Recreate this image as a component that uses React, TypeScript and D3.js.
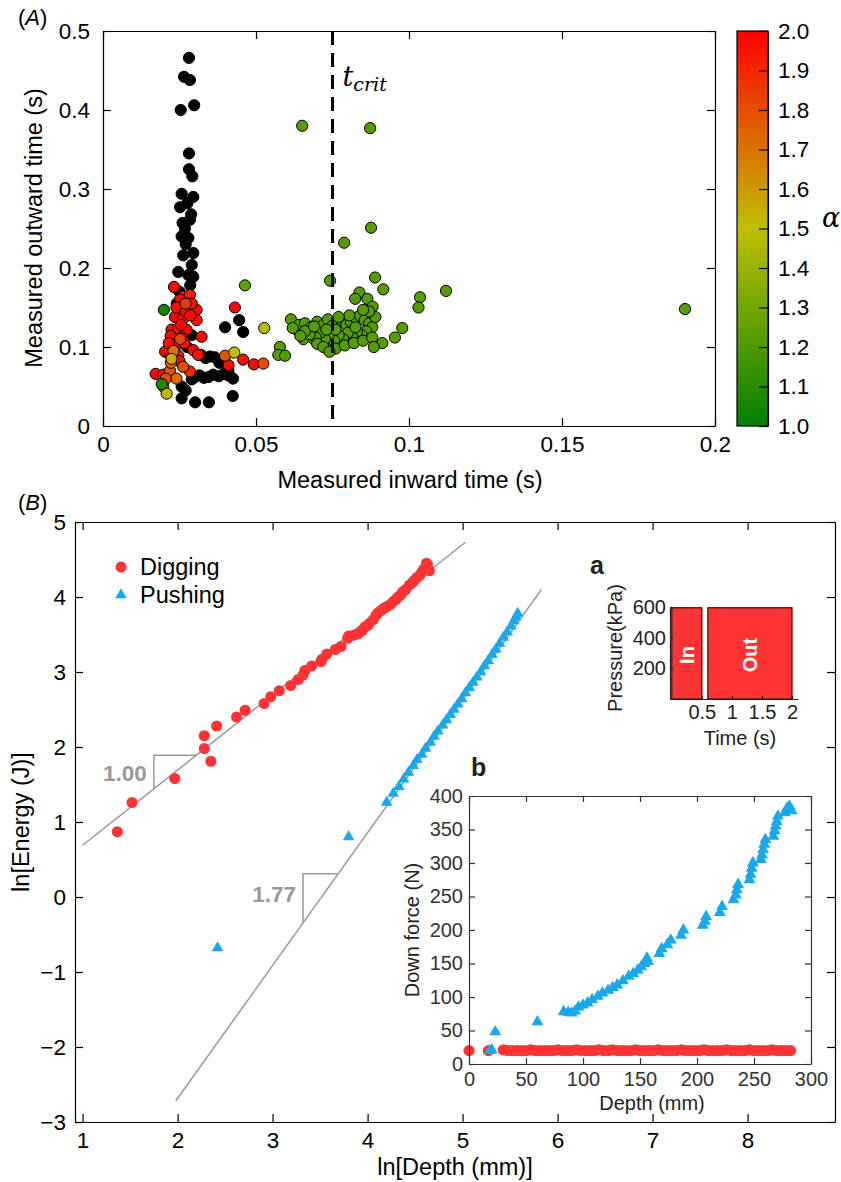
import React, { useEffect, useRef } from "react";
import * as d3 from "d3";

// ---------- Panel A: measured inward / outward times (s) ----------
// points without an alpha value (drawn black)
const aBlackPoints = [
  [0.0281, 0.466], [0.0265, 0.442], [0.0284, 0.438], [0.0254, 0.400], [0.0298, 0.406],
  [0.0281, 0.345], [0.0281, 0.325], [0.0292, 0.316], [0.0257, 0.294], [0.0295, 0.290],
  [0.0252, 0.277], [0.0276, 0.282], [0.0284, 0.261], [0.0260, 0.257], [0.0268, 0.250],
  [0.0257, 0.240], [0.0279, 0.238], [0.0270, 0.230], [0.0295, 0.219], [0.0262, 0.216],
  [0.0290, 0.204], [0.0246, 0.195], [0.0279, 0.191], [0.0295, 0.189], [0.0288, 0.268],
  [0.0285, 0.178], [0.0250, 0.170], [0.0241, 0.155], [0.0290, 0.115], [0.0275, 0.100],
  [0.0399, 0.125], [0.0445, 0.134], [0.0458, 0.119], [0.0350, 0.088], [0.0320, 0.090],
  [0.0335, 0.086], [0.0365, 0.087], [0.0380, 0.080], [0.0395, 0.085], [0.0410, 0.070],
  [0.0290, 0.059], [0.0300, 0.062], [0.0315, 0.064], [0.0330, 0.061], [0.0345, 0.062],
  [0.0360, 0.065], [0.0378, 0.063], [0.0395, 0.066], [0.0410, 0.064], [0.0425, 0.060],
  [0.0424, 0.038], [0.0257, 0.035], [0.0301, 0.030], [0.0346, 0.030], [0.0257, 0.050],
  [0.0270, 0.045],
];

// points with a fitted alpha: [inward, outward, alpha]
const aAlphaPoints = [
  // red
  [0.0232, 0.176, 1.97], [0.0262, 0.164, 1.95], [0.0252, 0.160, 1.98], [0.0284, 0.166, 1.92],
  [0.0306, 0.147, 1.98], [0.0306, 0.134, 1.96], [0.0235, 0.138, 1.99], [0.0262, 0.136, 1.97],
  [0.0224, 0.122, 1.98], [0.0246, 0.124, 1.95], [0.0273, 0.122, 1.97], [0.0221, 0.114, 1.99],
  [0.0257, 0.112, 1.96], [0.0322, 0.113, 1.98], [0.0235, 0.100, 1.97], [0.0203, 0.094, 1.99],
  [0.0246, 0.089, 1.93], [0.0295, 0.096, 1.98], [0.0311, 0.090, 1.95], [0.0431, 0.150, 1.98],
  [0.0410, 0.077, 1.98], [0.0458, 0.084, 1.96], [0.0493, 0.078, 1.97], [0.0172, 0.066, 1.99],
  [0.0197, 0.065, 1.97], [0.0284, 0.069, 1.90], [0.0240, 0.150, 1.96], [0.0270, 0.145, 1.98],
  [0.0215, 0.105, 1.96], [0.0265, 0.105, 1.97], [0.0255, 0.128, 1.99], [0.0285, 0.140, 1.97],
  [0.0290, 0.155, 1.95], [0.0220, 0.090, 1.98], [0.0250, 0.082, 1.94],
  // orange
  [0.0262, 0.075, 1.80], [0.0219, 0.070, 1.78], [0.0197, 0.050, 1.75], [0.0399, 0.089, 1.78],
  [0.0524, 0.079, 1.80], [0.0252, 0.110, 1.82], [0.0222, 0.080, 1.75], [0.0240, 0.060, 1.72],
  [0.0205, 0.060, 1.80], [0.0270, 0.155, 1.85], [0.0230, 0.095, 1.70],
  // yellow
  [0.0208, 0.041, 1.52], [0.0429, 0.093, 1.50], [0.0527, 0.124, 1.48], [0.0224, 0.085, 1.55],
  // dark green
  [0.0199, 0.147, 1.05], [0.0192, 0.053, 1.08],
  // green
  [0.0651, 0.380, 1.22], [0.0873, 0.377, 1.22], [0.0876, 0.251, 1.22], [0.0788, 0.232, 1.22],
  [0.0742, 0.184, 1.22], [0.0889, 0.188, 1.22], [0.0916, 0.173, 1.22], [0.0838, 0.169, 1.22],
  [0.0824, 0.161, 1.22], [0.0864, 0.161, 1.22], [0.0881, 0.151, 1.22], [0.1036, 0.163, 1.22],
  [0.1031, 0.150, 1.22], [0.1121, 0.171, 1.22], [0.1902, 0.148, 1.22], [0.0978, 0.124, 1.22],
  [0.0954, 0.112, 1.22], [0.0913, 0.105, 1.22], [0.0614, 0.135, 1.22], [0.0464, 0.178, 1.25],
  [0.0578, 0.100, 1.22], [0.0573, 0.090, 1.22], [0.0595, 0.089, 1.22], [0.0633, 0.122, 1.22],
  [0.0655, 0.110, 1.22], [0.0686, 0.111, 1.22], [0.0736, 0.101, 1.22],
  [0.0640, 0.128, 1.22], [0.0660, 0.130, 1.22], [0.0680, 0.125, 1.22], [0.0700, 0.132, 1.22],
  [0.0720, 0.128, 1.22], [0.0735, 0.135, 1.22], [0.0750, 0.127, 1.22], [0.0765, 0.130, 1.22],
  [0.0780, 0.134, 1.22], [0.0795, 0.128, 1.22], [0.0810, 0.132, 1.22], [0.0825, 0.137, 1.22],
  [0.0840, 0.140, 1.22], [0.0855, 0.134, 1.22], [0.0870, 0.130, 1.22], [0.0880, 0.125, 1.22],
  [0.0860, 0.120, 1.22], [0.0845, 0.115, 1.22], [0.0830, 0.120, 1.22], [0.0815, 0.112, 1.22],
  [0.0800, 0.118, 1.22], [0.0785, 0.110, 1.22], [0.0770, 0.115, 1.22], [0.0755, 0.108, 1.22],
  [0.0740, 0.117, 1.22], [0.0725, 0.110, 1.22], [0.0710, 0.118, 1.22], [0.0695, 0.112, 1.22],
  [0.0675, 0.116, 1.22], [0.0660, 0.120, 1.22], [0.0645, 0.114, 1.22], [0.0700, 0.104, 1.22],
  [0.0720, 0.100, 1.22], [0.0760, 0.098, 1.22], [0.0790, 0.102, 1.22], [0.0820, 0.105, 1.22],
  [0.0850, 0.108, 1.22], [0.0880, 0.112, 1.22], [0.0890, 0.138, 1.22], [0.0870, 0.145, 1.22],
  [0.0850, 0.147, 1.22], [0.0825, 0.125, 1.22], [0.0760, 0.122, 1.22], [0.0730, 0.122, 1.22],
  [0.0690, 0.126, 1.22], [0.0620, 0.124, 1.22], [0.0885, 0.100, 1.22], [0.0740, 0.094, 1.22],
  [0.0805, 0.140, 1.22], [0.0770, 0.138, 1.22],
];

const aXTicks = [0, 0.05, 0.1, 0.15, 0.2];
const aYTicks = [0, 0.1, 0.2, 0.3, 0.4, 0.5];
const tCrit = 0.075;
const alphaTicks = [1.0, 1.1, 1.2, 1.3, 1.4, 1.5, 1.6, 1.7, 1.8, 1.9, 2.0];

// ---------- Panel B: ln(energy) vs ln(depth) ----------
const digPoints = [
  [1.365, 0.87], [1.52, 1.26], [1.97, 1.58], [2.28, 1.98], [2.28, 2.15], [2.35, 1.81],
  [2.41, 2.28], [2.62, 2.40], [2.71, 2.49], [2.91, 2.58], [2.98, 2.67], [3.07, 2.75],
  [3.19, 2.82], [3.27, 2.90], [3.32, 2.96], [3.34, 3.02], [3.41, 3.08], [3.51, 3.14],
  [3.52, 3.17], [3.57, 3.24], [3.66, 3.30], [3.72, 3.34], [3.79, 3.45], [3.80, 3.48],
  [3.85, 3.49], [3.90, 3.51], [3.94, 3.55], [3.97, 3.60], [4.00, 3.62], [4.02, 3.65],
  [4.06, 3.70], [4.09, 3.76], [4.11, 3.79], [4.14, 3.82], [4.17, 3.85], [4.20, 3.87],
  [4.24, 3.90], [4.27, 3.94], [4.30, 3.97], [4.32, 4.00], [4.35, 4.03], [4.37, 4.07],
  [4.40, 4.10], [4.44, 4.16], [4.47, 4.19], [4.49, 4.22], [4.52, 4.26], [4.55, 4.29],
  [4.57, 4.33], [4.59, 4.37], [4.62, 4.45], [4.63, 4.43], [4.65, 4.35],
];
const pushPoints = [
  [2.42, -0.68], [3.80, 0.80],
  [4.20, 1.26], [4.27, 1.38], [4.33, 1.47], [4.38, 1.57], [4.43, 1.66], [4.48, 1.75],
  [4.52, 1.83], [4.57, 1.90], [4.61, 1.98], [4.66, 2.06], [4.70, 2.14], [4.74, 2.21],
  [4.79, 2.29], [4.83, 2.36], [4.87, 2.43], [4.91, 2.50], [4.95, 2.57], [4.99, 2.64],
  [5.03, 2.72], [5.07, 2.79], [5.11, 2.86], [5.15, 2.93], [5.19, 3.00], [5.23, 3.08],
  [5.27, 3.15], [5.31, 3.23], [5.35, 3.30], [5.39, 3.38], [5.43, 3.46], [5.47, 3.53],
  [5.51, 3.61], [5.54, 3.68], [5.56, 3.73], [5.58, 3.78],
];
const digFit = [[1.0, 0.69], [5.03, 4.73]];
const pushFit = [[1.98, -2.72], [5.83, 4.10]];
const digSlopeTri = [[1.75, 1.44], [1.75, 1.89], [2.2, 1.89]];
const pushSlopeTri = [[3.32, -0.34], [3.32, 0.31], [3.68, 0.31]];
const bXTicks = [1, 2, 3, 4, 5, 6, 7, 8];
const bYTicks = [-3, -2, -1, 0, 1, 2, 3, 4, 5];

// ---------- Inset a: pressure pulses ----------
const pulses = [
  { label: "In", t0: 0.0, t1: 0.5, p: 595 },
  { label: "Out", t0: 0.6, t1: 2.0, p: 595 },
];
const inAXTicks = [0.5, 1, 1.5, 2];
const inAYTicks = [200, 400, 600];

// ---------- Inset b: down force vs depth ----------
const forcePush = [
  [18, 20], [20, 21], [23, 48], [60, 63], [83, 78], [87, 77], [90, 76], [93, 79], [96, 85],
  [100, 88], [104, 91], [108, 96], [113, 101], [117, 106], [122, 110], [126, 114], [130, 118],
  [135, 124], [140, 131], [144, 135], [148, 140], [151, 145], [154, 150], [156, 158], [157, 153],
  [167, 165], [169, 172], [174, 178], [177, 185], [186, 192], [188, 200], [205, 207], [207, 213],
  [208, 220], [220, 226], [222, 235], [232, 245], [234, 252], [235, 260], [236, 268], [246, 275],
  [247, 283], [248, 292], [249, 300], [256, 305], [257, 312], [258, 320], [259, 328], [260, 335],
  [267, 340], [268, 348], [269, 355], [270, 362], [271, 370], [277, 375], [279, 382], [281, 385],
  [283, 378],
];
const forceDig = [
  [0, 20], [17, 20], [30, 21], [34, 20], [38, 20], [42, 20], [46, 20], [50, 20], [54, 21],
  [58, 20], [62, 20], [66, 20], [70, 20], [74, 20], [78, 21], [82, 20], [86, 20], [90, 20],
  [94, 21], [98, 20], [102, 20], [106, 20], [110, 20], [114, 21], [118, 20], [122, 20],
  [126, 21], [130, 20], [134, 20], [138, 20], [142, 20], [146, 21], [150, 20], [154, 20],
  [158, 20], [162, 20], [166, 21], [170, 20], [174, 20], [178, 20], [182, 20], [186, 21],
  [190, 20], [194, 20], [198, 20], [202, 20], [206, 21], [210, 20], [214, 20], [218, 20],
  [222, 20], [226, 21], [230, 20], [234, 20], [238, 20], [242, 20], [246, 21], [250, 20],
  [254, 20], [258, 20], [262, 20], [266, 21], [270, 20], [274, 20], [278, 20], [282, 20],
];
const inBXTicks = [0, 50, 100, 150, 200, 250, 300];
const inBYTicks = [0, 50, 100, 150, 200, 250, 300, 350, 400];

const FONT = "'Liberation Sans', Arial, Helvetica, sans-serif";
const RED = "#ff3333";
const BLUE = "#17a9ec";
const TICK_FS = 22.5;
const TITLE_FS = 23.5;
const INSET_FS = 20;

const alphaColor = d3.scaleLinear<string>().domain([1, 1.5, 2]).range(["#008000", "#bfbf00", "#ff0000"]);

function styleAxis(g, fs, color) {
  g.attr("font-family", FONT).attr("font-size", fs);
  g.selectAll("path, line").attr("stroke", color).attr("stroke-width", 1.2);
  g.selectAll("text").attr("fill", color);
}

// full box with inward ticks on every side (matlab style)
function boxAxes(g, x, y, o) {
  const [xl, xr] = x.range();
  const [yb, yt] = y.range();
  const color = o.color || "#000";
  const b = g.append("g").attr("transform", `translate(0,${yb})`)
    .call(d3.axisBottom(x).tickValues(o.xTicks).tickSizeInner(-o.tick).tickSizeOuter(0).tickPadding(o.padX).tickFormat(o.fmtX));
  const t = g.append("g").attr("transform", `translate(0,${yt})`)
    .call(d3.axisTop(x).tickValues(o.xTicks).tickSizeInner(-o.tick).tickSizeOuter(0).tickFormat(() => ""));
  const l = g.append("g").attr("transform", `translate(${xl},0)`)
    .call(d3.axisLeft(y).tickValues(o.yTicks).tickSizeInner(-o.tick).tickSizeOuter(0).tickPadding(o.padY).tickFormat(o.fmtY));
  const r = g.append("g").attr("transform", `translate(${xr},0)`)
    .call(d3.axisRight(y).tickValues(o.yTicks).tickSizeInner(-o.tick).tickSizeOuter(0).tickFormat(() => ""));
  [b, t, l, r].forEach(a => styleAxis(a, o.fs, color));
}

function drawPanelA(svg) {
  const g = svg.append("g");
  const x = d3.scaleLinear().domain([0, 0.2]).range([103, 715]);
  const y = d3.scaleLinear().domain([0, 0.5]).range([426, 31]);

  // scatter
  g.selectAll(".blk").data(aBlackPoints).join("circle").attr("class", "blk")
    .attr("cx", d => x(d[0])).attr("cy", d => y(d[1])).attr("r", 5.6)
    .attr("fill", "#000").attr("stroke", "#000").attr("stroke-width", 1);
  g.selectAll(".col").data(aAlphaPoints).join("circle").attr("class", "col")
    .attr("cx", d => x(d[0])).attr("cy", d => y(d[1])).attr("r", 5.6)
    .attr("fill", d => alphaColor(d[2])).attr("stroke", "#000").attr("stroke-width", 1);

  // t_crit
  g.append("line").attr("x1", x(tCrit)).attr("x2", x(tCrit)).attr("y1", y(0.5)).attr("y2", y(0))
    .attr("stroke", "#000").attr("stroke-width", 3).attr("stroke-dasharray", "14,8");
  const tc = g.append("text").attr("x", x(tCrit) + 10).attr("y", 86)
    .attr("font-family", "'DejaVu Serif', serif").attr("font-style", "italic").attr("font-size", 27);
  tc.append("tspan").text("t");
  tc.append("tspan").attr("font-size", 19).attr("dy", 5).text("crit");

  boxAxes(g, x, y, {
    xTicks: aXTicks, yTicks: aYTicks, tick: 8, padX: 10, padY: 13, fs: TICK_FS,
    fmtX: d => (d === 0 ? "0" : String(d)), fmtY: d => (d === 0 ? "0" : String(d)),
  });

  g.append("text").attr("x", 410).attr("y", 488).attr("text-anchor", "middle")
    .attr("font-family", FONT).attr("font-size", TITLE_FS).text("Measured inward time (s)");
  g.append("text").attr("transform", `translate(42,228) rotate(-90)`).attr("text-anchor", "middle")
    .attr("font-family", FONT).attr("font-size", TITLE_FS).text("Measured outward time (s)");
  const la = g.append("text").attr("x", 18).attr("y", 25).attr("font-family", FONT).attr("font-size", 22);
  la.append("tspan").text("(");
  la.append("tspan").attr("font-style", "italic").text("A");
  la.append("tspan").text(")");

  // colorbar
  const cy = d3.scaleLinear().domain([1, 2]).range([426, 31]);
  const defs = svg.append("defs");
  const grad = defs.append("linearGradient").attr("id", "alphaGrad")
    .attr("x1", 0).attr("y1", 1).attr("x2", 0).attr("y2", 0);
  [1, 1.25, 1.5, 1.75, 2].forEach(v => grad.append("stop")
    .attr("offset", (v - 1)).attr("stop-color", alphaColor(v)));
  g.append("rect").attr("x", 737).attr("y", cy(2)).attr("width", 31).attr("height", cy(1) - cy(2))
    .attr("fill", "url(#alphaGrad)").attr("stroke", "#000").attr("stroke-width", 1.2);
  const ca = g.append("g").attr("transform", "translate(768,0)")
    .call(d3.axisRight(cy).tickValues(alphaTicks).tickSizeInner(-9).tickSizeOuter(0).tickPadding(10).tickFormat(d3.format(".1f")));
  styleAxis(ca, TICK_FS, "#000");
  g.append("text").attr("x", 822).attr("y", 227).attr("font-family", "'DejaVu Serif', serif")
    .attr("font-style", "italic").attr("font-size", 27).text("α");
}

function drawPanelB(svg) {
  const g = svg.append("g");
  const x = d3.scaleLinear().domain([0.92, 8.92]).range([75, 835]);
  const y = d3.scaleLinear().domain([-3, 5]).range([1122, 522]);
  const line = d3.line().x(d => x(d[0])).y(d => y(d[1]));

  g.append("path").attr("d", line(digFit)).attr("fill", "none").attr("stroke", "#999").attr("stroke-width", 1.5);
  g.append("path").attr("d", line(pushFit)).attr("fill", "none").attr("stroke", "#999").attr("stroke-width", 1.5);
  g.append("path").attr("d", line(digSlopeTri)).attr("fill", "none").attr("stroke", "#999").attr("stroke-width", 1.5);
  g.append("path").attr("d", line(pushSlopeTri)).attr("fill", "none").attr("stroke", "#999").attr("stroke-width", 1.5);
  g.append("text").attr("x", x(digSlopeTri[0][0]) - 7).attr("y", 781).attr("text-anchor", "end")
    .attr("font-family", FONT).attr("font-weight", "bold").attr("font-size", 22.5).attr("fill", "#999").text("1.00");
  g.append("text").attr("x", x(pushSlopeTri[0][0]) - 7).attr("y", 902).attr("text-anchor", "end")
    .attr("font-family", FONT).attr("font-weight", "bold").attr("font-size", 22.5).attr("fill", "#999").text("1.77");

  g.selectAll(".dig").data(digPoints).join("circle").attr("class", "dig")
    .attr("cx", d => x(d[0])).attr("cy", d => y(d[1])).attr("r", 5.5).attr("fill", RED);
  const tri = d3.symbol().type(d3.symbolTriangle).size(58);
  g.selectAll(".push").data(pushPoints).join("path").attr("class", "push")
    .attr("transform", d => `translate(${x(d[0])},${y(d[1])})`).attr("d", tri()).attr("fill", BLUE);

  boxAxes(g, x, y, {
    xTicks: bXTicks, yTicks: bYTicks, tick: 8, padX: 10, padY: 9, fs: TICK_FS,
    fmtX: d3.format("d"), fmtY: d3.format("d"),
  });

  g.append("text").attr("x", 455).attr("y", 1175).attr("text-anchor", "middle")
    .attr("font-family", FONT).attr("font-size", TITLE_FS).text("ln[Depth (mm)]");
  g.append("text").attr("transform", `translate(29,822) rotate(-90)`).attr("text-anchor", "middle")
    .attr("font-family", FONT).attr("font-size", TITLE_FS).text("ln[Energy (J)]");
  const lb = g.append("text").attr("x", 18).attr("y", 510).attr("font-family", FONT).attr("font-size", 22);
  lb.append("tspan").text("(");
  lb.append("tspan").attr("font-style", "italic").text("B");
  lb.append("tspan").text(")");

  // legend
  g.append("circle").attr("cx", 121).attr("cy", 567).attr("r", 5.5).attr("fill", RED);
  g.append("path").attr("transform", "translate(121,595)").attr("d", tri()).attr("fill", BLUE);
  g.append("text").attr("x", 140).attr("y", 575).attr("font-family", FONT).attr("font-size", TITLE_FS).text("Digging");
  g.append("text").attr("x", 140).attr("y", 603).attr("font-family", FONT).attr("font-size", TITLE_FS).text("Pushing");
}

function drawInsetA(svg) {
  const g = svg.append("g");
  const x = d3.scaleLinear().domain([-0.03, 2.1]).range([670, 798]);
  const y = d3.scaleLinear().domain([0, 600]).range([699, 607]);

  g.selectAll(".pulse").data(pulses).join("rect").attr("class", "pulse")
    .attr("x", d => x(d.t0)).attr("width", d => x(d.t1) - x(d.t0))
    .attr("y", d => y(d.p)).attr("height", d => y(0) - y(d.p))
    .attr("fill", RED).attr("stroke", "#4a1212").attr("stroke-width", 1.3);
  g.selectAll(".plab").data(pulses).join("text").attr("class", "plab")
    .attr("transform", d => `translate(${(x(d.t0) + x(d.t1)) / 2 + 7},655) rotate(-90)`)
    .attr("text-anchor", "middle").attr("font-family", FONT).attr("font-weight", "bold")
    .attr("font-size", 20).attr("fill", "#fff").text(d => d.label);

  const xa = g.append("g").attr("transform", `translate(0,${y.range()[0]})`)
    .call(d3.axisBottom(x).tickValues(inAXTicks).tickSizeInner(-3).tickSizeOuter(0).tickPadding(6).tickFormat(d => String(d)));
  const ya = g.append("g").attr("transform", `translate(${x.range()[0]},0)`)
    .call(d3.axisLeft(y).tickValues(inAYTicks).tickSizeInner(-3).tickSizeOuter(0).tickPadding(4).tickFormat(d3.format("d")));
  styleAxis(xa, INSET_FS, "#222");
  styleAxis(ya, INSET_FS, "#222");

  g.append("text").attr("x", 740).attr("y", 745).attr("text-anchor", "middle")
    .attr("font-family", FONT).attr("font-size", INSET_FS).attr("fill", "#222").text("Time (s)");
  g.append("text").attr("transform", "translate(622,648) rotate(-90)").attr("text-anchor", "middle")
    .attr("font-family", FONT).attr("font-size", INSET_FS).attr("fill", "#222").text("Pressure(kPa)");
  g.append("text").attr("x", 590).attr("y", 574).attr("font-family", FONT).attr("font-weight", "bold")
    .attr("font-size", 25).attr("fill", "#222").text("a");
}

function drawInsetB(svg) {
  const g = svg.append("g");
  const x = d3.scaleLinear().domain([0, 300]).range([469, 811]);
  const y = d3.scaleLinear().domain([0, 400]).range([1064, 796]);

  g.append("rect").attr("x", 469).attr("y", 796).attr("width", 342).attr("height", 268).attr("fill", "#fff");
  const tri = d3.symbol().type(d3.symbolTriangle).size(62);
  g.selectAll(".fd").data(forceDig).join("circle").attr("class", "fd")
    .attr("cx", d => x(d[0])).attr("cy", d => y(d[1])).attr("r", 5.6).attr("fill", RED);
  g.selectAll(".fp").data(forcePush).join("path").attr("class", "fp")
    .attr("transform", d => `translate(${x(d[0])},${y(d[1])})`).attr("d", tri()).attr("fill", BLUE);

  boxAxes(g, x, y, {
    xTicks: inBXTicks, yTicks: inBYTicks, tick: 6, padX: 8, padY: 6, fs: INSET_FS, color: "#333",
    fmtX: d3.format("d"), fmtY: d3.format("d"),
  });

  g.append("text").attr("x", 652).attr("y", 1110).attr("text-anchor", "middle")
    .attr("font-family", FONT).attr("font-size", INSET_FS).attr("fill", "#222").text("Depth (mm)");
  g.append("text").attr("transform", "translate(419,930) rotate(-90)").attr("text-anchor", "middle")
    .attr("font-family", FONT).attr("font-size", INSET_FS).attr("fill", "#222").text("Down force (N)");
  g.append("text").attr("x", 471).attr("y", 776).attr("font-family", FONT).attr("font-weight", "bold")
    .attr("font-size", 25).attr("fill", "#222").text("b");
}

export default function App() {
  const ref = useRef(null);
  useEffect(() => {
    const svg = d3.select(ref.current);
    svg.selectAll("*").remove();
    drawPanelA(svg);
    drawPanelB(svg);
    drawInsetA(svg);
    drawInsetB(svg);
  }, []);
  return (
    <svg ref={ref} width={841} height={1182}
      style={{ position: "absolute", left: 0, top: 0, background: "#fff" }} />
  );
}
